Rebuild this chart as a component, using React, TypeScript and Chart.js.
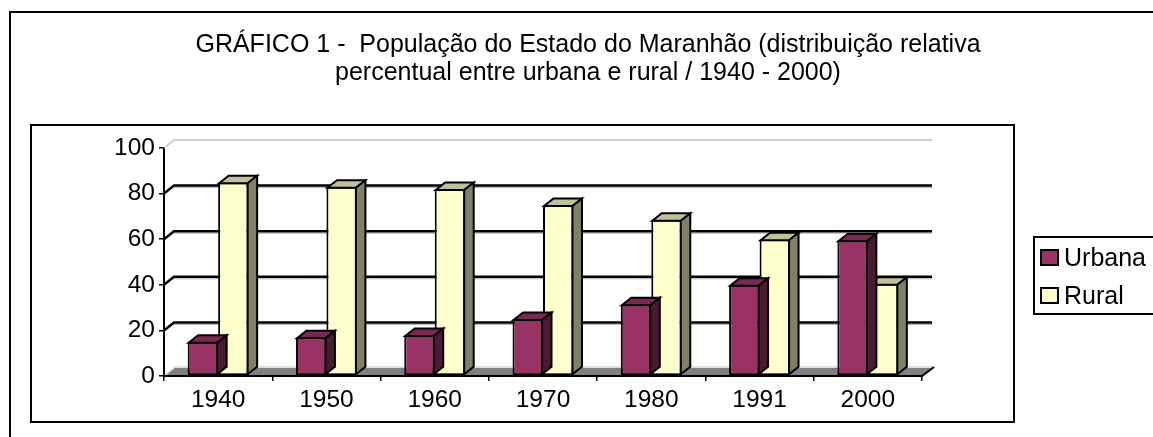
import React, { useEffect, useRef } from 'react';
import { Chart, registerables } from 'chart.js';

Chart.register(...registerables);

// ---- data ----
const categories = ['1940', '1950', '1960', '1970', '1980', '1991', '2000'];
const urbana = [15, 17, 18, 25, 31.5, 40, 59.5];
const rural = [85, 83, 82, 75, 68.5, 60, 40.5];
const seriesNames = ['Urbana', 'Rural'];
const yTicks = [0, 20, 40, 60, 80, 100];
const titleLines = [
  'GRÁFICO 1 -  População do Estado do Maranhão (distribuição relativa',
  'percentual entre urbana e rural / 1940 - 2000)',
];

// ---- styles ----
const W = 1153;
const H = 437;
const FONT = "'Liberation Sans', Arial, Helvetica, sans-serif";
const FRONT = ['#993366', '#FFFFCC'];
const TOP = ['#7A2951', '#C0C09A'];
const SIDE = ['#4C1933', '#808066'];
const DX = 10; // floor / wall depth
const DY = 8;
const BDX = 9.5; // bar depth
const BDY = 7.5;

const framePlugin = {
  id: 'frames',
  beforeDraw(chart: any) {
    const { ctx } = chart;
    ctx.save();
    ctx.fillStyle = '#fff';
    ctx.fillRect(0, 0, W, H);
    ctx.strokeStyle = '#000';
    ctx.lineWidth = 2;
    ctx.strokeRect(10, 12, 1400, 800);
    ctx.strokeRect(31, 125, 1014 - 31, 422 - 125);
    ctx.restore();
  },
  afterDraw(chart: any) {
    const { ctx } = chart;
    ctx.save();
    ctx.strokeStyle = '#000';
    ctx.lineWidth = 2;
    ctx.strokeRect(1034, 237, 300, 77);
    const ds = chart.data.datasets;
    const rows = [250, 288];
    ds.forEach((d: any, i: number) => {
      const ty = rows[i];
      ctx.fillStyle = d.backgroundColor;
      ctx.fillRect(1041, ty, 17, 15);
      ctx.lineWidth = 2;
      ctx.strokeRect(1041, ty, 17, 15);
      ctx.fillStyle = '#000';
      ctx.font = `25px ${FONT}`;
      ctx.textBaseline = 'alphabetic';
      ctx.textAlign = 'left';
      ctx.fillText(d.label, 1064, ty + 15.5);
    });
    ctx.restore();
  },
};

const threeDPlugin = {
  id: 'threeD',
  beforeDatasetsDraw(chart: any) {
    const { ctx, chartArea, scales } = chart;
    const { left, right, bottom } = chartArea;
    const y = scales.y;
    ctx.save();
    yTicks.forEach((v) => {
      if (v === 0) return;
      const py = y.getPixelForValue(v);
      const light = v === 100;
      if (!light) {
        ctx.beginPath();
        ctx.moveTo(left + DX, py - DY + 2);
        ctx.lineTo(right + DX, py - DY + 2);
        ctx.strokeStyle = '#b0b0b0';
        ctx.lineWidth = 1;
        ctx.stroke();
      }
      ctx.beginPath();
      ctx.moveTo(left, py);
      ctx.lineTo(left + DX, py - DY);
      ctx.lineTo(right + DX, py - DY);
      ctx.strokeStyle = light ? '#c0c0c0' : '#000';
      ctx.lineWidth = light ? 1.5 : 2.5;
      ctx.stroke();
    });
    // floor
    ctx.beginPath();
    ctx.moveTo(left, bottom);
    ctx.lineTo(right, bottom);
    ctx.lineTo(right + DX, bottom - DY);
    ctx.lineTo(left + DX, bottom - DY);
    ctx.closePath();
    ctx.fillStyle = '#808080';
    ctx.fill();
    ctx.beginPath();
    ctx.moveTo(left + DX, bottom - DY - 1);
    ctx.lineTo(right + DX, bottom - DY - 1);
    ctx.strokeStyle = '#d4d4d4';
    ctx.lineWidth = 1.5;
    ctx.stroke();
    ctx.beginPath();
    ctx.moveTo(left + 1, bottom - 1);
    ctx.lineTo(left + DX, bottom - DY);
    ctx.strokeStyle = '#e0e0e0';
    ctx.lineWidth = 1.5;
    ctx.stroke();
    // front edge & right edge
    ctx.beginPath();
    ctx.moveTo(left, bottom);
    ctx.lineTo(right, bottom);
    ctx.lineTo(right + DX + 2, bottom - DY - 1);
    ctx.strokeStyle = '#000';
    ctx.lineWidth = 2;
    ctx.stroke();
    ctx.restore();
  },
  afterDatasetDraw(chart: any, args: any) {
    const { ctx } = chart;
    const i = args.index;
    ctx.save();
    ctx.strokeStyle = '#000';
    ctx.lineWidth = 2;
    ctx.lineJoin = 'miter';
    args.meta.data.forEach((bar: any) => {
      const { x, y, base, width } = bar.getProps(['x', 'y', 'base', 'width'], true);
      const l = x - width / 2;
      const r = x + width / 2;
      const t = y;
      const b = base;
      ctx.beginPath();
      ctx.moveTo(l + 1, t + 1);
      ctx.lineTo(l + 1 + BDX, t + 1 - BDY);
      ctx.lineTo(r - 1 + BDX, t + 1 - BDY);
      ctx.lineTo(r - 1, t + 1);
      ctx.closePath();
      ctx.fillStyle = TOP[i];
      ctx.fill();
      ctx.stroke();
      ctx.beginPath();
      ctx.moveTo(r - 1, t + 1);
      ctx.lineTo(r - 1 + BDX, t + 1 - BDY);
      ctx.lineTo(r - 1 + BDX, b - 1 - BDY);
      ctx.lineTo(r - 1, b - 1);
      ctx.closePath();
      ctx.fillStyle = SIDE[i];
      ctx.fill();
      ctx.stroke();
    });
    ctx.restore();
  },
};

export default function App() {
  const ref = useRef<HTMLCanvasElement>(null);

  useEffect(() => {
    if (!ref.current) return;
    const chart = new Chart(ref.current, {
      type: 'bar',
      data: {
        labels: categories,
        datasets: [
          {
            label: seriesNames[0],
            data: urbana,
            backgroundColor: FRONT[0],
            borderColor: '#000',
            borderWidth: 2,
            borderSkipped: false,
            categoryPercentage: 0.563,
            barPercentage: 1,
          },
          {
            label: seriesNames[1],
            data: rural,
            backgroundColor: FRONT[1],
            borderColor: '#000',
            borderWidth: 2,
            borderSkipped: false,
            categoryPercentage: 0.563,
            barPercentage: 1,
          },
        ],
      },
      options: {
        animation: false,
        responsive: false,
        devicePixelRatio: 1,
        events: [],
        layout: { padding: { left: 23, right: 0, top: 0, bottom: 0 } },
        plugins: {
          legend: { display: false },
          tooltip: { enabled: false },
          title: {
            display: true,
            text: titleLines,
            color: '#000',
            font: { family: FONT, size: 25, weight: 'normal', lineHeight: 1.12 },
            padding: { top: 31, bottom: 61 },
          },
        },
        scales: {
          x: {
            ticks: { font: { family: FONT, size: 24.5 }, color: '#000', padding: 5 },
            grid: {
              display: true,
              drawOnChartArea: false,
              drawTicks: true,
              tickLength: 5,
              color: '#000',
              lineWidth: 1.5,
              offset: true,
            },
            border: { display: true, color: '#000', width: 2 },
            afterFit: (s: any) => {
              s.height = 61;
            },
          },
          y: {
            min: 0,
            max: 100,
            ticks: {
              stepSize: 20,
              font: { family: FONT, size: 24.5 },
              color: '#000',
              padding: 4,
            },
            grid: {
              display: true,
              drawOnChartArea: false,
              drawTicks: true,
              tickLength: 5,
              color: '#000',
              lineWidth: 1.5,
            },
            border: { display: true, color: '#000', width: 2 },
            afterFit: (s: any) => {
              s.width = 141;
            },
          },
          yR: {
            position: 'right',
            display: true,
            grid: { display: false },
            border: { display: false },
            ticks: { display: false },
            afterFit: (s: any) => {
              s.width = 231;
            },
          },
        },
      },
      plugins: [framePlugin, threeDPlugin],
    } as any);
    return () => chart.destroy();
  }, []);

  return (
    <div style={{ position: 'fixed', left: 0, top: 0, width: W, height: H, background: '#fff' }}>
      <canvas ref={ref} width={W} height={H} style={{ display: 'block', width: W, height: H }} />
    </div>
  );
}
